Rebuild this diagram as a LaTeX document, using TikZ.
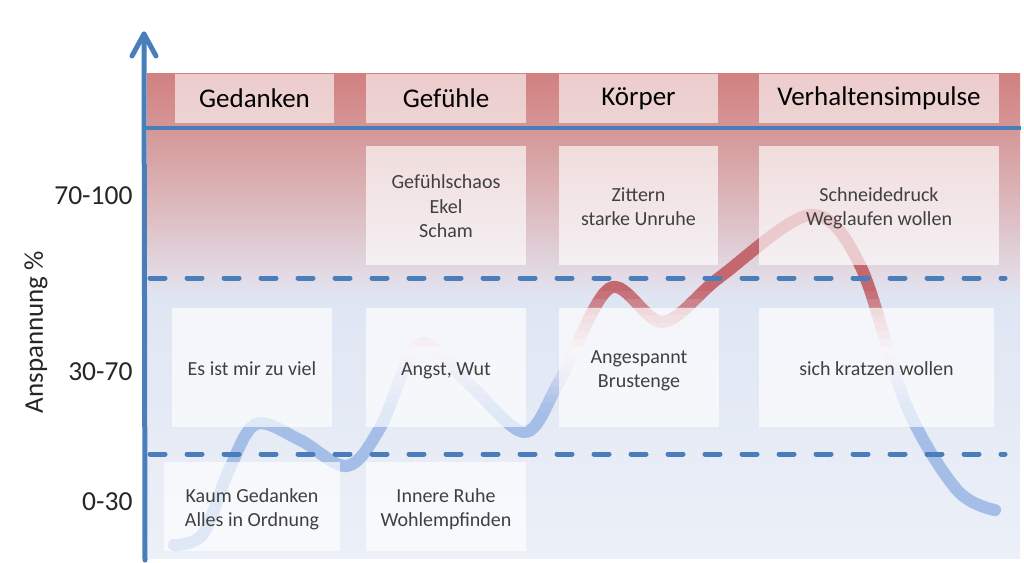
\documentclass[tikz,border=0pt]{standalone}
\usepackage{fontspec}
\setmainfont{Carlito}
\usetikzlibrary{arrows.meta}
\definecolor{axisblue}{RGB}{74,126,187}
\definecolor{bgRa}{RGB}{210,128,128}
\definecolor{bgRb}{RGB}{213,150,150}
\definecolor{bgRc}{RGB}{220,182,186}
\definecolor{bgMa}{RGB}{226,218,228}
\definecolor{bgMb}{RGB}{223,230,243}
\definecolor{bgB}{RGB}{236,240,248}
\definecolor{cR}{RGB}{196,104,112}
\definecolor{cW}{RGB}{236,228,238}
\definecolor{cB}{RGB}{165,190,232}
\definecolor{bodytext}{RGB}{64,64,64}
\newcommand\lnstrut{\rule[-4.35pt]{0pt}{24.5pt}}
\pgfdeclareverticalshading{bgshade}{100bp}{color(0bp)=(bgB); color(25bp)=(bgB); color(51.7bp)=(bgMb); color(54.3bp)=(bgMa); color(62bp)=(bgRc); color(69.4bp)=(bgRb); color(75bp)=(bgRa); color(100bp)=(bgRa)}
\tikzset{
  headbox/.style={fill=white, fill opacity=0.6, text opacity=1, inner sep=0pt, font=\fontsize{27}{30}\selectfont, text=black},
  cellbox/.style={fill=white, fill opacity=0.65, text opacity=1, inner sep=0pt, align=center, font=\fontsize{20}{24.5}\selectfont, text=bodytext},
  ylab/.style={anchor=east, font=\fontsize{27.5}{30}\selectfont, text=black!85},
  axisline/.style={draw=axisblue, line width=5pt, line cap=round},
  levelline/.style={draw=axisblue, line width=5pt, line cap=round, dash pattern=on 15pt off 22pt},
  curveline/.style={line width=12pt, line cap=round, line join=round}
}
\begin{document}
\begin{tikzpicture}[x=1pt,y=-1pt]
\useasboundingbox (0,0) rectangle (1024,562);
% background
\shade[shading=bgshade] (147,73) rectangle (1020,558);
% curve (height-dependent colour, drawn in thin horizontal bands)
\path[save path=\curvesaved] plot[smooth,tension=0.55] coordinates {(174,545) (203,534) (229,470) (256,424) (300,440) (347,466) (380,428) (420,344) (470,385) (525,432) (560,380) (610,288) (663,322) (720,277) (810,215) (860,265) (907,407) (957,490) (995,510)};
\foreach \i in {0,...,45} {
  \pgfmathsetmacro{\ya}{195+8*\i}
  \pgfmathsetmacro{\yb}{\ya+8.6}
  \pgfmathsetmacro{\yc}{\ya+4}
  \pgfmathsetmacro{\pA}{max(0,min(100,(\yc-290)/60*100))}
  \pgfmathsetmacro{\pB}{max(0,min(100,(\yc-350)/60*100))}
  \colorlet{tmpA}{cW!\pA!cR}
  \colorlet{tmpB}{cB!\pB!tmpA}
  \begin{scope}
    \clip (140,\ya) rectangle (1020,\yb);
    \draw[curveline, draw=tmpB, use path=\curvesaved];
  \end{scope}
}
% header boxes
\node[headbox, minimum width=159pt, minimum height=49pt] (hGed) at (254.5,98.5) {Gedanken};
\node[headbox, minimum width=160pt, minimum height=49pt] (hGef) at (446,98.5) {Gefühle};
\node[headbox, minimum width=159pt, minimum height=49pt] (hKoe) at (638.5,98.5) {Körper};
\node[headbox, minimum width=240pt, minimum height=49pt] (hVer) at (879,98.5) {Verhaltensimpulse};
% row 70-100
\node[cellbox, minimum width=160pt, minimum height=119pt] (aGef) at (446,205.5) {\lnstrut Gefühlschaos\\\lnstrut Ekel\\\lnstrut Scham};
\node[cellbox, minimum width=159pt, minimum height=119pt] (aKoe) at (638.5,205.5) {\lnstrut Zittern\\\lnstrut starke Unruhe};
\node[cellbox, minimum width=240pt, minimum height=119pt] (aVer) at (879,205.5) {\lnstrut Schneidedruck\\\lnstrut Weglaufen wollen};
% row 30-70
\node[cellbox, minimum width=160pt, minimum height=119pt] (bGed) at (252,367.5) {\lnstrut Es ist mir zu viel};
\node[cellbox, minimum width=160pt, minimum height=119pt] (bGef) at (446,367.5) {\lnstrut Angst, Wut};
\node[cellbox, minimum width=160pt, minimum height=119pt] (bKoe) at (639,367.5) {\lnstrut Angespannt\\\lnstrut Brustenge};
\node[cellbox, minimum width=235pt, minimum height=119pt] (bVer) at (876.5,367.5) {\lnstrut sich kratzen wollen};
% row 0-30
\node[cellbox, minimum width=176pt, minimum height=89pt] (cGed) at (252,506.5) {\lnstrut Kaum Gedanken\\\lnstrut Alles in Ordnung};
\node[cellbox, minimum width=160pt, minimum height=89pt] (cGef) at (446,506.5) {\lnstrut Innere Ruhe\\\lnstrut Wohlempfinden};
% level lines
\coordinate (d1a) at (150,278); \coordinate (d1b) at (1005,278);
\coordinate (d2a) at (150,454); \coordinate (d2b) at (1005,454);
\draw[levelline] (d1a) -- (d1b);
\draw[levelline] (d2a) -- (d2b);
\coordinate (hla) at (145,128); \coordinate (hlb) at (1021,128);
\draw[draw=axisblue, line width=4.5pt] (hla) -- (hlb);
% axis
\coordinate (axbot) at (145,560); \coordinate (axtop) at (144,34);
\draw[axisline] (axbot) -- (axtop);
\coordinate (arl) at (132,56); \coordinate (arr) at (156,56);
\draw[axisline, line join=round] (arl) -- (axtop) -- (arr);
% y labels
\node[ylab] (l1) at (136,196) {70-100};
\node[ylab] (l2) at (136,372) {30-70};
\node[ylab] (l3) at (136,502) {0-30};
\node[rotate=90, font=\fontsize{27}{30}\selectfont, text=black!85] (ylabel) at (36,332) {Anspannung \%};
\end{tikzpicture}
\end{document}
